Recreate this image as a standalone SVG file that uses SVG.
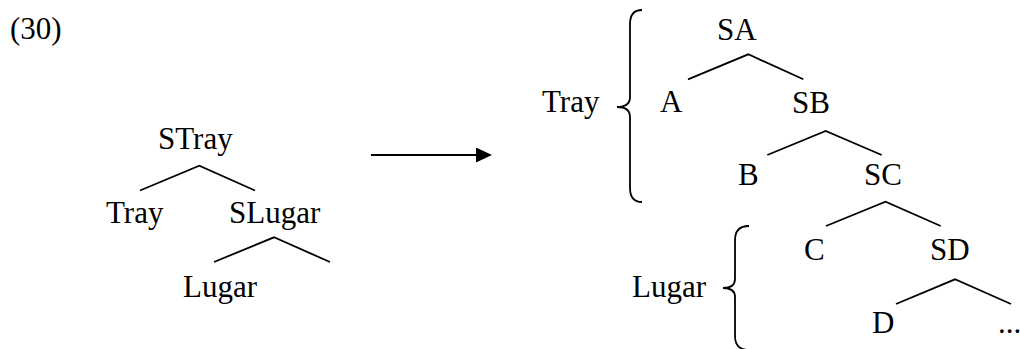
<svg xmlns="http://www.w3.org/2000/svg" width="1020" height="349" viewBox="0 0 1020 349">
<style>
text { font-family: "Liberation Serif", "DejaVu Serif", serif; font-size: 31px; fill: #000; }
.edge { fill: none; stroke: #000; stroke-width: 1.8; stroke-linecap: butt; stroke-linejoin: miter; }
.brace { fill: none; stroke: #000; stroke-width: 1.8; }
</style>
<defs>
<marker id="arrowhead" markerWidth="16" markerHeight="15" refX="0" refY="7.5" orient="auto" markerUnits="userSpaceOnUse">
<polygon points="0,0 16,7.5 0,15" fill="#000"/>
</marker>
</defs>
<rect width="1020" height="349" fill="#fff"/>
<g id="label-30"><text x="10" y="39">(30)</text></g>

<g id="connectors">
<polyline class="edge" points="140,190.5 199.3,165.7 255,190.5"/>
<polyline class="edge" points="214,262 274,237.3 330,262"/>
<polyline class="edge" points="688,79.3 748.3,54.3 803.3,79.3"/>
<polyline class="edge" points="767.3,155 825.7,131 881.7,155"/>
<polyline class="edge" points="826,226 885.5,201.7 940.7,226"/>
<polyline class="edge" points="896,304 955,279.3 1011,304"/>
<line class="edge" x1="371" y1="155" x2="476" y2="155" stroke-width="2" marker-end="url(#arrowhead)"/>
</g>

<g id="braces">
<path class="brace" d="M642,10 Q630,10 630,24 L630,97 Q630,107 617,107 Q630,107 630,117 L630,188 Q630,202 642,202"/>
<path class="brace" d="M749,226 Q735,226 735,240 L735,279 Q735,288 723,288 Q735,288 735,297 L735,336 Q735,350 749,350"/>
</g>

<g id="node-STray"><text x="158" y="149">STray</text></g>
<g id="node-Tray-left"><text x="106" y="223">Tray</text></g>
<g id="node-SLugar"><text x="229" y="223">SLugar</text></g>
<g id="node-Lugar-left"><text x="183" y="297">Lugar</text></g>

<g id="label-Tray-right"><text x="542" y="112">Tray</text></g>
<g id="label-Lugar-right"><text x="632" y="297">Lugar</text></g>

<g id="node-SA"><text x="717" y="39.5">SA</text></g>
<g id="node-A"><text x="660" y="112">A</text></g>
<g id="node-SB"><text x="792" y="112.5">SB</text></g>
<g id="node-B"><text x="738" y="185">B</text></g>
<g id="node-SC"><text x="864" y="185">SC</text></g>
<g id="node-C"><text x="804" y="260">C</text></g>
<g id="node-SD"><text x="930" y="260">SD</text></g>
<g id="node-D"><text x="872" y="333">D</text></g>
<g id="node-ellipsis"><text x="998" y="333">...</text></g>
</svg>
